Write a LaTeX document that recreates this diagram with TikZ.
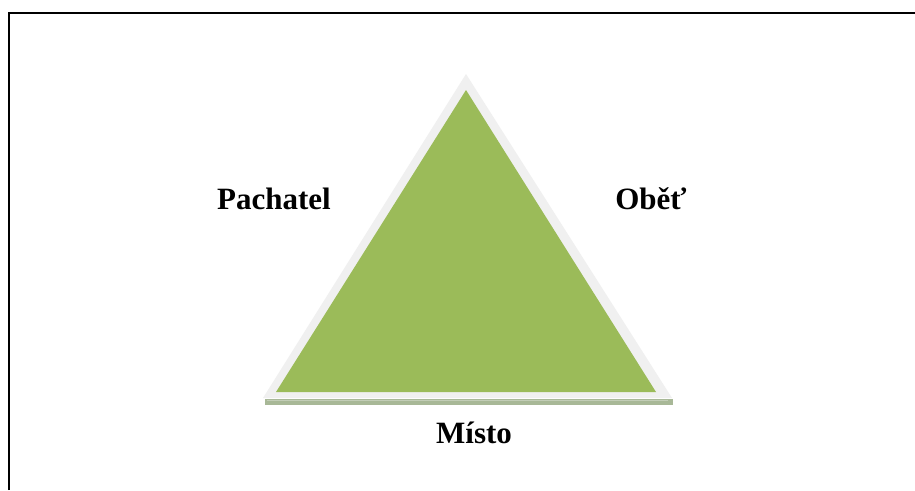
\documentclass[tikz,border=0pt]{standalone}
\usepackage{fontspec}
\setmainfont{Liberation Serif}
\definecolor{trigreen}{HTML}{9BBB59}
\definecolor{trigray}{HTML}{F0F0F0}
\definecolor{trishadow}{HTML}{A8B897}
\begin{document}
\begin{tikzpicture}[x=1pt,y=-1pt,
  lbl/.style={font=\bfseries\fontsize{31}{31}\selectfont, anchor=base, inner sep=0pt}]
\useasboundingbox (0,0) rectangle (915,490);
\fill[white] (0,0) rectangle (915,490);
% frame
\draw[line width=1.6pt] (9,490) -- (9,13) -- (916,13);
% shadow under base
\fill[trishadow] (265,399) rectangle (673,405);
\draw[trishadow!70!white, line width=0.6pt] (267,400.5) -- (668,400.5);
% outer light outline
\coordinate (oA) at (466,74);
\coordinate (oL) at (263,398);
\coordinate (oR) at (672,398);
\fill[trigray] (oA) -- (oL) -- (oR) -- cycle;
% green triangle
\coordinate (gA) at (466,90);
\coordinate (gL) at (276,392);
\coordinate (gR) at (656,392);
\fill[trigreen] (gA) -- (gL) -- (gR) -- cycle;
% labels
\node[lbl] (pachatel) at (274,209) {Pachatel};
\node[lbl] (obet) at (651,209) {Oběť};
\node[lbl] (misto) at (474,443) {Místo};
\end{tikzpicture}
\end{document}
